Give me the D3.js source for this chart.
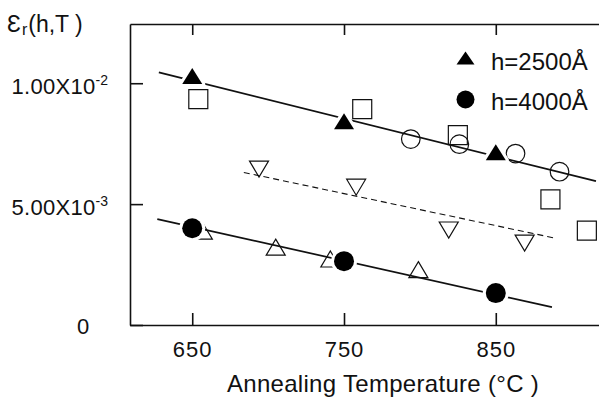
<!DOCTYPE html>
<html>
<head>
<meta charset="utf-8">
<script src="https://cdn.jsdelivr.net/npm/d3@7"></script>
<style>
  body { margin: 0; background: #fff; }
  svg { display: block; }
  text { font-family: "Liberation Sans", Arial, sans-serif; fill: #111; }
</style>
</head>
<body>
<svg id="chart" width="599" height="409"></svg>
<script>
// ---- data ----
const xTicks = [650, 750, 850];
const yTicks = [0, 0.005, 0.01];
const yTickLabels = [["0", ""], ["5.00X10", "-3"], ["1.00X10", "-2"]];

// filled triangles: h = 2500 Å
const tri2500T = [650, 750, 850];
const tri2500V = [0.01030, 0.00843, 0.00715];
// filled circles: h = 4000 Å
const circ4000T = [650, 750, 850];
const circ4000V = [0.00400, 0.00264, 0.00132];
// open squares
const squareT = [654, 762, 825, 886, 910];
const squareV = [0.00934, 0.00893, 0.00785, 0.00520, 0.00390];
// open circles
const openCircT = [794, 826, 863, 892];
const openCircV = [0.00769, 0.00748, 0.00709, 0.00634];
// open down-pointing triangles
const downTriT = [694, 758, 819, 869];
const downTriV = [0.00645, 0.00570, 0.00393, 0.00339];
// open up-pointing triangles
const upTriT = [657, 705, 741, 799];
const upTriV = [0.00388, 0.00322, 0.00273, 0.00229];

// fitted lines (end points)
const upperLineT = [628, 916];
const upperLineV = [0.01045, 0.00595];
const lowerLineT = [627, 887];
const lowerLineV = [0.00438, 0.00074];
const dashLineT = [684, 890];
const dashLineV = [0.00631, 0.00358];

const legendLabels = ["h=2500Å", "h=4000Å"];

// ---- layout ----
const svg = d3.select("#chart");
const x = d3.scaleLinear().domain([609, 918]).range([130, 599]);
const y = d3.scaleLinear().domain([0, 0.01245]).range([325, 24]);

const axisColor = "#111";

// bottom axis
const gB = svg.append("g").attr("transform", `translate(0,${y(0)})`)
  .call(d3.axisBottom(x).tickValues(xTicks).tickSize(-12).tickSizeOuter(0).tickPadding(20).tickFormat(d3.format("d")));
// top axis
const gT = svg.append("g").attr("transform", `translate(0,${y.range()[1]})`)
  .call(d3.axisTop(x).tickValues(xTicks).tickSize(-11).tickSizeOuter(0).tickFormat(""));
// left axis
const gL = svg.append("g").attr("transform", `translate(${x.range()[0]},0)`)
  .call(d3.axisLeft(y).tickValues(yTicks).tickSize(-13).tickSizeOuter(0).tickPadding(22).tickFormat(""));

[gB, gT, gL].forEach(g => {
  g.selectAll("path.domain").attr("stroke", axisColor).attr("stroke-width", 1.6);
  g.selectAll(".tick line").attr("stroke", axisColor).attr("stroke-width", 1.6);
});

gB.selectAll(".tick text")
  .attr("font-size", 22).attr("letter-spacing", 1)
  .attr("font-family", "Liberation Sans, Arial, sans-serif")
  .attr("fill", "#111").attr("dy", null).attr("y", 32);

gL.selectAll(".tick text").each(function(d, i) {
  const t = d3.select(this);
  const lab = yTickLabels[yTicks.indexOf(d)];
  t.text(null).attr("font-size", 22).attr("dy", null).attr("y", 10)
    .attr("font-family", "Liberation Sans, Arial, sans-serif").attr("fill", "#111");
  if (lab[1] === "") {
    t.attr("text-anchor", "middle").attr("x", -47).attr("y", 8);
    t.append("tspan").text(lab[0]);
  } else {
    t.attr("text-anchor", "end").attr("x", -22);
    t.append("tspan").attr("letter-spacing", 0.3).text(lab[0]);
    t.append("tspan").attr("font-size", 14).attr("dy", -9).text(lab[1]);
  }
});

// axis titles
svg.append("text").attr("x", 383).attr("y", 392).attr("text-anchor", "middle")
  .attr("font-size", 24).attr("letter-spacing", 0.3).text("Annealing Temperature (°C )");

const yl = svg.append("text").attr("x", 7).attr("y", 32).attr("font-size", 23);
yl.append("tspan").text("Ɛ");
yl.append("tspan").attr("font-size", 16).attr("dy", 3).attr("dx", 1).text("r");
yl.append("tspan").attr("dy", -3).attr("dx", 1).text("(h,T )");

// ---- lines ----
const line = d3.line().x(d => x(d[0])).y(d => y(d[1]));
const zipP = (a, b) => a.map((t, i) => [t, b[i]]);

svg.append("path").datum(zipP(upperLineT, upperLineV)).attr("d", line)
  .attr("fill", "none").attr("stroke", "#111").attr("stroke-width", 1.7);
svg.append("path").datum(zipP(lowerLineT, lowerLineV)).attr("d", line)
  .attr("fill", "none").attr("stroke", "#111").attr("stroke-width", 1.7);
svg.append("path").datum(zipP(dashLineT, dashLineV)).attr("d", line)
  .attr("fill", "none").attr("stroke", "#111").attr("stroke-width", 1.1)
  .attr("stroke-dasharray", "6,4");

// ---- marker shapes (centred on bbox) ----
function triUp(w, h) { return `M0,${-h/2}L${w/2},${h/2}L${-w/2},${h/2}Z`; }
function triDown(w, h) { return `M${-w/2},${-h/2}L${w/2},${-h/2}L0,${h/2}Z`; }
function square(s) { return `M${-s/2},${-s/2}h${s}v${s}h${-s}Z`; }

function openMarkers(T, V, pathStr) {
  svg.append("g").selectAll("path").data(zipP(T, V)).join("path")
    .attr("transform", d => `translate(${x(d[0])},${y(d[1])})`)
    .attr("d", pathStr).attr("fill", "none").attr("stroke", "#111").attr("stroke-width", 1.2);
}
function openCircles(T, V, r) {
  svg.append("g").selectAll("circle").data(zipP(T, V)).join("circle")
    .attr("cx", d => x(d[0])).attr("cy", d => y(d[1])).attr("r", r)
    .attr("fill", "none").attr("stroke", "#111").attr("stroke-width", 1.2);
}

openMarkers(squareT, squareV, square(19));
openCircles(openCircT, openCircV, 9.3);
openMarkers(downTriT, downTriV, triDown(19, 16));
openMarkers(upTriT, upTriV, triUp(19, 16));

// filled markers with white halo
function filledTris(T, V) {
  const g = svg.append("g");
  const data = zipP(T, V);
  g.selectAll("path.h").data(data).join("path").attr("class", "h")
    .attr("transform", d => `translate(${x(d[0])},${y(d[1])})`)
    .attr("d", triUp(20, 16)).attr("fill", "#fff").attr("stroke", "#fff").attr("stroke-width", 6)
    .attr("stroke-linejoin", "round");
  g.selectAll("path.m").data(data).join("path").attr("class", "m")
    .attr("transform", d => `translate(${x(d[0])},${y(d[1])})`)
    .attr("d", triUp(20, 16)).attr("fill", "#000");
}
function filledCircs(T, V) {
  const g = svg.append("g");
  const data = zipP(T, V);
  g.selectAll("circle.h").data(data).join("circle").attr("class", "h")
    .attr("cx", d => x(d[0])).attr("cy", d => y(d[1])).attr("r", 13).attr("fill", "#fff");
  g.selectAll("circle.m").data(data).join("circle").attr("class", "m")
    .attr("cx", d => x(d[0])).attr("cy", d => y(d[1])).attr("r", 10).attr("fill", "#000");
}
filledTris(tri2500T, tri2500V);
filledCircs(circ4000T, circ4000V);

// ---- legend ----
const lg = svg.append("g");
lg.append("path").attr("transform", "translate(465.5,58)").attr("d", triUp(18, 13)).attr("fill", "#000");
lg.append("circle").attr("cx", 465.5).attr("cy", 99.5).attr("r", 9).attr("fill", "#000");
lg.append("text").attr("x", 491).attr("y", 70).attr("font-size", 24).text(legendLabels[0]);
lg.append("text").attr("x", 491).attr("y", 110).attr("font-size", 24).text(legendLabels[1]);
</script>
</body>
</html>
